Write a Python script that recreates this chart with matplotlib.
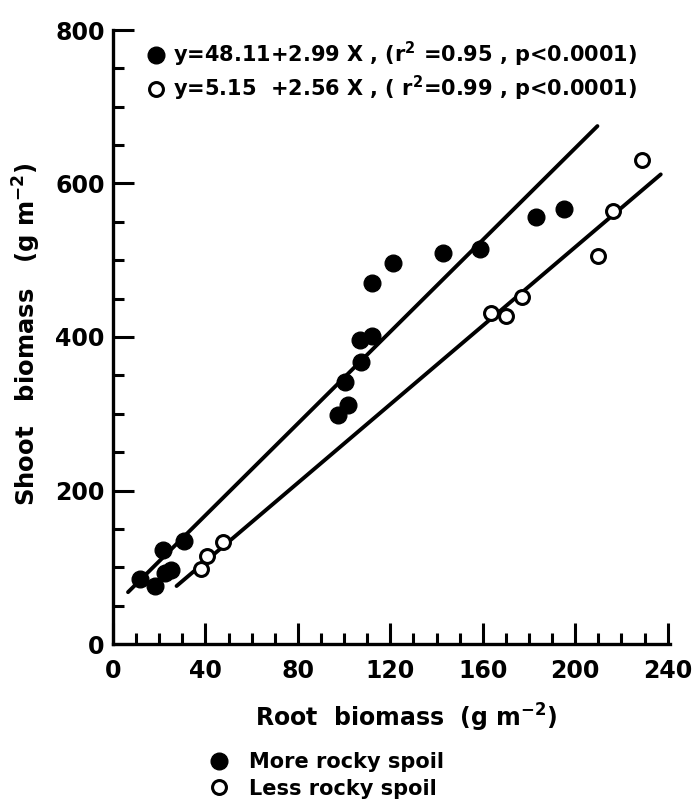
import numpy as np
import matplotlib
matplotlib.use("Agg")
import matplotlib.pyplot as plt
from matplotlib.ticker import MultipleLocator

plt.rcParams['font.family'] = ['DejaVu Sans']
plt.rcParams['font.weight'] = 'bold'
plt.rcParams['mathtext.fontset'] = 'custom'
plt.rcParams['mathtext.rm'] = 'DejaVu Sans:bold'
plt.rcParams['mathtext.default'] = 'rm'

# more rocky spoil (filled)
root_more = [11.5, 18, 22.7, 25.2, 21.6, 30.6, 97.2, 101.5, 100.4, 107.1,
             106.9, 112, 112, 121, 142.8, 158.8, 183, 195]
shoot_more = [85, 75, 93, 97, 122, 134, 299, 311, 342, 368,
              396, 401, 471, 497, 510, 515, 557, 567]

# less rocky spoil (open)
root_less = [38.2, 40.6, 47.4, 163.6, 170, 176.9, 209.7, 216.2, 228.7]
shoot_less = [98, 115, 133, 431, 427, 452, 505, 564, 631]

# regression lines: intercept, slope, x range drawn
fit_more = (48.11, 2.99, 6.5, 209.6)
fit_less = (5.15, 2.56, 27.5, 237)

eq_more = "y=48.11+2.99 X , (r$^{2}$ =0.95 , p<0.0001)"
eq_less = "y=5.15  +2.56 X , ( r$^{2}$=0.99 , p<0.0001)"

fig = plt.figure(figsize=(6.92, 8.11), dpi=100)
ax = fig.add_axes([113/692, 1 - 644/811, 557/692, 614/811])

for a, b, x0, x1 in (fit_more, fit_less):
    xs = np.array([x0, x1])
    ax.plot(xs, a + b * xs, color='black', lw=2.8, solid_capstyle='round')

h_more, = ax.plot(root_more, shoot_more, 'o', ms=12, mfc='black', mec='black', ls='none')
h_less, = ax.plot(root_less, shoot_less, 'o', ms=10, mfc='white', mec='black', mew=2.2, ls='none')

ax.set_xlim(0, 241)
ax.set_ylim(0, 800)
ax.xaxis.set_major_locator(MultipleLocator(40))
ax.xaxis.set_minor_locator(MultipleLocator(10))
ax.yaxis.set_major_locator(MultipleLocator(200))
ax.yaxis.set_minor_locator(MultipleLocator(50))
ax.spines['top'].set_visible(False)
ax.spines['right'].set_visible(False)
for s in ('left', 'bottom'):
    ax.spines[s].set_linewidth(2.4)
ax.tick_params(which='major', direction='in', length=15, width=2.2, labelsize=17)
ax.tick_params(which='minor', direction='in', length=8, width=2.2)
ax.tick_params(axis='x', which='major', pad=11)
ax.tick_params(axis='y', which='major', pad=6)

ax.set_xlabel("Root  biomass  (g m$^{-2}$)", fontsize=17, fontweight='bold', va='center')
ax.set_ylabel("Shoot   biomass   (g m$^{-2}$)", fontsize=17.5, fontweight='bold', va='center')
ax.xaxis.set_label_coords(0.526, -0.12)
ax.yaxis.set_label_coords(-0.155, 0.505)

ax.legend([h_more, h_less], [eq_more, eq_less], loc='upper left',
          bbox_to_anchor=(0.035, 1.005), frameon=False, fontsize=15,
          handletextpad=0.25, labelspacing=0.25, handlelength=1.1,
          borderaxespad=0.2)

fig.legend([h_more, h_less], ["More rocky spoil", "Less rocky spoil"],
           loc='upper left', bbox_to_anchor=(0.29, 1 - 744/811),
           frameon=False, fontsize=15, handletextpad=0.9,
           labelspacing=0.3, handlelength=1.0, borderaxespad=0)

fig.savefig("out.png", dpi=100)
